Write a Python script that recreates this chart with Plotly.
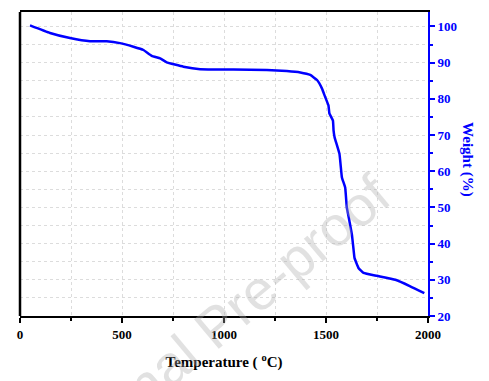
import plotly.graph_objects as go

# Data (Temperature °C vs Weight %)
temperature = [49, 147, 245, 343, 425, 490, 556, 605, 646, 687, 719, 801, 883, 1047, 1210,
               1308, 1374, 1423, 1456, 1480, 1496, 1512, 1517, 1534, 1537, 1542, 1566, 1578,
               1594, 1602, 1615, 1627, 1635, 1640, 1660, 1684, 1750, 1840, 1913, 1982]
weight = [100.3, 98.2, 96.8, 95.9, 95.9, 95.4, 94.4, 93.5, 91.9, 91.2, 90.1, 88.9, 88.2, 88.1, 88.0,
          87.7, 87.3, 86.6, 85.2, 82.9, 80.5, 78.2, 75.9, 74.0, 71.3, 69.4, 64.8, 58.3,
          55.5, 50.0, 46.2, 42.5, 38.4, 36.0, 33.2, 31.9, 31.1, 30.0, 28.2, 26.3]

x_ticks = [0, 500, 1000, 1500, 2000]
y_ticks = [20, 30, 40, 50, 60, 70, 80, 90, 100]

serif = "Times New Roman, Liberation Serif, DejaVu Serif, serif"

fig = go.Figure()
fig.add_trace(go.Scatter(x=temperature, y=weight, mode="lines",
                         line=dict(color="#0000ff", width=2.5, shape="spline", smoothing=0.3),
                         showlegend=False))

fig.update_layout(
    width=481, height=373,
    margin=dict(l=12, r=61, t=4, b=65, autoexpand=False),
    paper_bgcolor="white", plot_bgcolor="white",
    font=dict(family=serif),
    xaxis=dict(
        range=[0, 2000], tickvals=x_ticks,
        showline=True, linecolor="black", linewidth=2, mirror=True,
        ticks="outside", ticklen=5, tickwidth=2, tickcolor="black",
        tickfont=dict(family=serif, size=13, color="black", weight="bold"),
        showgrid=True, gridcolor="#dcdcdc", gridwidth=1, griddash="dot",
        minor=dict(dtick=250, ticks="outside", ticklen=3, tickwidth=2, tickcolor="black",
                   showgrid=True, gridcolor="#dcdcdc", griddash="dot"),
        zeroline=False,
        title=dict(text="Temperature ( <sup>o</sup>C)", standoff=16,
                   font=dict(family=serif, size=15, color="black", weight="bold")),
    ),
    yaxis=dict(
        range=[20, 104], tickvals=y_ticks, side="right",
        showline=True, linecolor="#0000ff", linewidth=2,
        ticks="outside", ticklen=5, tickwidth=2, tickcolor="#0000ff",
        tickfont=dict(family=serif, size=13, color="#0000ff", weight="bold"),
        showgrid=True, gridcolor="#dcdcdc", gridwidth=1, griddash="dot",
        minor=dict(dtick=5, ticks="outside", ticklen=3, tickwidth=2, tickcolor="#0000ff",
                   showgrid=True, gridcolor="#dcdcdc", griddash="dot"),
        zeroline=False,
    ),
    shapes=[dict(type="line", xref="paper", yref="paper", x0=0, x1=0, y0=0, y1=1,
                 line=dict(color="black", width=2.5))],
    annotations=[
        dict(text="Weight (%)", xref="paper", yref="paper", x=1.098, y=0.513,
             xanchor="center", yanchor="middle",
             showarrow=False, textangle=90,
             font=dict(family=serif, size=15, color="#0000ff", weight="bold")),
        dict(text="Journal Pre-proof", xref="paper", yref="paper", x=0.48, y=-0.03,
             xanchor="center", yanchor="middle",
             showarrow=False, textangle=-40,
             font=dict(family="Liberation Sans, Arial, sans-serif", size=56,
                       color="rgba(170,170,170,0.35)")),
    ],
)

fig.write_html("out.html")
